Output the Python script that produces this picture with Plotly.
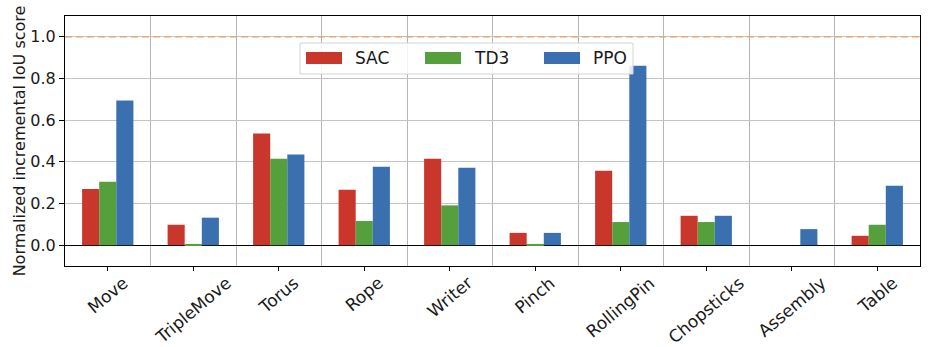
import plotly.graph_objects as go

# Per-task normalized incremental IoU scores for each RL algorithm
tasks = ["Move", "TripleMove", "Torus", "Rope", "Writer", "Pinch",
         "RollingPin", "Chopsticks", "Assembly", "Table"]
sac = [0.270, 0.098, 0.536, 0.266, 0.415, 0.059, 0.357, 0.141, 0.0, 0.045]
td3 = [0.304, 0.006, 0.415, 0.116, 0.191, 0.006, 0.111, 0.111, 0.0, 0.098]
ppo = [0.694, 0.132, 0.435, 0.377, 0.372, 0.059, 0.861, 0.141, 0.077, 0.285]
series_names = ["SAC", "TD3", "PPO"]
y_ticks = [0.0, 0.2, 0.4, 0.6, 0.8, 1.0]
reference_score = 1.0

colors = ["#C9372C", "#55A03C", "#3A70B0"]
FONT = "DejaVu Sans"

W, H = 935, 347
M_L, M_R, M_T, M_B = 65, 15, 16, 81
PW, PH = W - M_L - M_R, H - M_T - M_B


def px(x):
    return (x - M_L) / PW


def py(y):
    return (H - M_B - y) / PH


xs = list(range(len(tasks)))
fig = go.Figure()
for name, vals, col in zip(series_names, [sac, td3, ppo], colors):
    fig.add_trace(go.Bar(x=xs, y=vals, name=name, marker_color=col,
                         marker_line_width=0, showlegend=False))

fig.update_layout(
    width=W, height=H,
    margin=dict(l=M_L, r=M_R, t=M_T, b=M_B),
    paper_bgcolor="white", plot_bgcolor="white",
    barmode="group", bargap=0.4, bargroupgap=0,
    font=dict(family=FONT, size=16, color="#1a1a1a"),
)

fig.update_xaxes(
    range=[-0.5, len(tasks) - 0.5],
    tickmode="array", tickvals=xs, showticklabels=False,
    ticks="outside", ticklen=4, tickcolor="black",
    showgrid=False, zeroline=False,
    showline=True, mirror=True, linecolor="black", linewidth=1.2,
    minor=dict(tickmode="array",
               tickvals=[i + 0.5 for i in range(len(tasks) - 1)],
               showgrid=True, gridcolor="#b5b5b5", gridwidth=1, ticks=""),
)
fig.update_yaxes(
    range=[-0.1, 1.1],
    tickmode="array", tickvals=y_ticks, tickformat=".1f",
    ticks="outside", ticklen=5, tickcolor="black",
    tickfont=dict(size=16),
    showgrid=True, gridcolor="#c4c4c4", gridwidth=1,
    zeroline=True, zerolinecolor="black", zerolinewidth=1.2,
    showline=True, mirror=True, linecolor="black", linewidth=1.2,
    title=dict(text="Normalized incremental IoU score",
               font=dict(size=16), standoff=0),
)

# Dashed reference line at the full score
fig.add_shape(type="line", xref="paper", yref="y", x0=0, x1=1,
              y0=reference_score, y1=reference_score,
              line=dict(color="#E3A26A", width=1.2, dash="7px,4px"),
              layer="above")

# Rotated category labels centred under their ticks
for i, t in enumerate(tasks):
    fig.add_annotation(x=i, xref="x", y=0, yref="paper", text=t,
                       textangle=-40, showarrow=False,
                       xanchor="center", yanchor="top", yshift=-4,
                       font=dict(size=17, color="#1a1a1a"))

# Legend box with wide colour swatches
fig.add_shape(type="rect", xref="paper", yref="paper",
              x0=px(300), x1=px(633), y0=py(74), y1=py(43),
              fillcolor="rgba(255,255,255,0.85)",
              line=dict(color="#d4d4d4", width=1), layer="above")
sw_x = [306, 425, 544]
for name, col, sx in zip(series_names, colors, sw_x):
    fig.add_shape(type="rect", xref="paper", yref="paper",
                  x0=px(sx), x1=px(sx + 36), y0=py(64), y1=py(52),
                  fillcolor=col, line_width=0, layer="above")
    fig.add_annotation(x=px(sx + 47), y=py(58), xref="paper", yref="paper",
                       text=name, showarrow=False, xanchor="left",
                       yanchor="middle",
                       font=dict(size=17, color="#1a1a1a"))

fig.write_html("out.html")
